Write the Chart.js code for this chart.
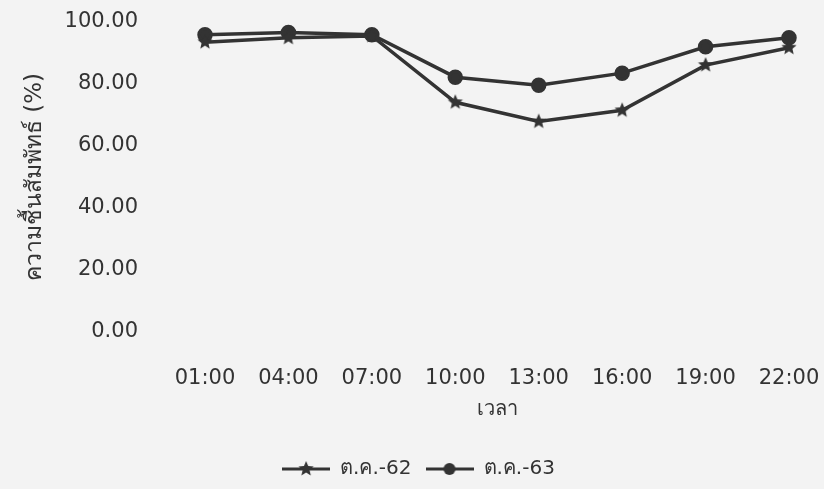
<!DOCTYPE html>
<html>
<head>
<meta charset="utf-8">
<script src="https://cdn.jsdelivr.net/npm/chart.js@4"></script>
<style>
  html, body { margin: 0; padding: 0; background: #f3f3f3; }
  #wrap { width: 824px; height: 489px; }
</style>
</head>
<body>
<div id="wrap"><canvas id="rhChart" width="824" height="489"></canvas></div>
<script>
// data
const times = ['01:00', '04:00', '07:00', '10:00', '13:00', '16:00', '19:00', '22:00'];
const oct62 = [93.5, 94.9, 95.5, 74.1, 67.9, 71.5, 86.1, 91.7];
const oct63 = [95.9, 96.6, 95.9, 82.2, 79.6, 83.5, 92.0, 94.9];
const seriesNames = ['ต.ค.-62', 'ต.ค.-63'];
const yTicks = [0, 20, 40, 60, 80, 100];

const ink = '#333333';
const font = "'DejaVu Sans', 'Noto Sans', sans-serif";

// filled five point star used as marker
function starMarker(r) {
    const c = document.createElement('canvas');
    c.width = c.height = r * 2 + 2;
    const g = c.getContext('2d');
    g.fillStyle = ink;
    g.beginPath();
    for (let i = 0; i < 10; i++) {
        const rad = i % 2 === 0 ? r : r * 0.45;
        const a = -Math.PI / 2 + i * Math.PI / 5;
        const px = c.width / 2 + rad * Math.cos(a);
        const py = c.height / 2 + rad * Math.sin(a);
        if (i === 0) g.moveTo(px, py); else g.lineTo(px, py);
    }
    g.closePath();
    g.fill();
    return c;
}

// line with marker in the middle, for the legend
function legendIcon(kind) {
    const c = document.createElement('canvas');
    c.width = 48; c.height = 18;
    const g = c.getContext('2d');
    g.strokeStyle = ink;
    g.lineWidth = 3;
    g.beginPath(); g.moveTo(0, 9); g.lineTo(48, 9); g.stroke();
    if (kind === 'star') {
        g.drawImage(starMarker(8), 24 - 9, 9 - 9);
    } else {
        g.fillStyle = ink;
        g.beginPath(); g.arc(24, 9, 6, 0, Math.PI * 2); g.fill();
    }
    return c;
}

const starImg = starMarker(8);
const icons = [legendIcon('star'), legendIcon('circle')];

const ctx = document.getElementById('rhChart').getContext('2d');
new Chart(ctx, {
    type: 'line',
    data: {
        labels: times,
        datasets: [{
            label: seriesNames[0],
            data: oct62,
            borderColor: ink,
            backgroundColor: ink,
            borderWidth: 3.5,
            pointStyle: starImg,
            pointRadius: 7
        }, {
            label: seriesNames[1],
            data: oct63,
            borderColor: ink,
            backgroundColor: ink,
            borderWidth: 3.5,
            pointStyle: 'circle',
            pointRadius: 6
        }]
    },
    options: {
        responsive: false,
        animation: false,
        layout: { padding: { left: 17, right: 4, top: 22, bottom: 0 } },
        scales: {
            x: {
                offset: false,
                grid: { display: false },
                border: { display: false },
                ticks: { color: ink, padding: 26, font: { family: font, size: 21 } },
                title: { display: true, text: 'เวลา', color: ink, padding: { top: 0, bottom: 23 }, font: { family: font, size: 20 } },
                afterFit: function (axis) {
                    axis.height = 113;
                    axis.paddingLeft = 32;
                    axis.paddingRight = 35;
                }
            },
            y: {
                min: 0,
                max: 100,
                afterBuildTicks: function (axis) {
                    axis.ticks = yTicks.map(v => ({ value: v }));
                },
                grid: { display: false },
                border: { display: false },
                ticks: {
                    color: ink,
                    padding: 59,
                    font: { family: font, size: 21 },
                    callback: v => v.toFixed(2)
                },
                title: { display: true, text: 'ความชื้นสัมพัทธ์ (%)', color: ink, padding: 4, font: { family: font, size: 23 } },
                afterFit: function (axis) {
                    axis.width = 188;
                    axis.paddingTop = 12;
                    axis.paddingBottom = 12;
                }
            }
        },
        plugins: {
            legend: {
                position: 'bottom',
                labels: {
                    color: ink,
                    font: { family: font, size: 20 },
                    usePointStyle: true,
                    pointStyleWidth: 48,
                    padding: 14,
                    generateLabels: function (chart) {
                        const items = Chart.defaults.plugins.legend.labels.generateLabels(chart);
                        items.forEach((it, i) => { it.pointStyle = icons[i]; });
                        return items;
                    }
                }
            },
            tooltip: { enabled: false }
        }
    }
});
</script>
</body>
</html>
